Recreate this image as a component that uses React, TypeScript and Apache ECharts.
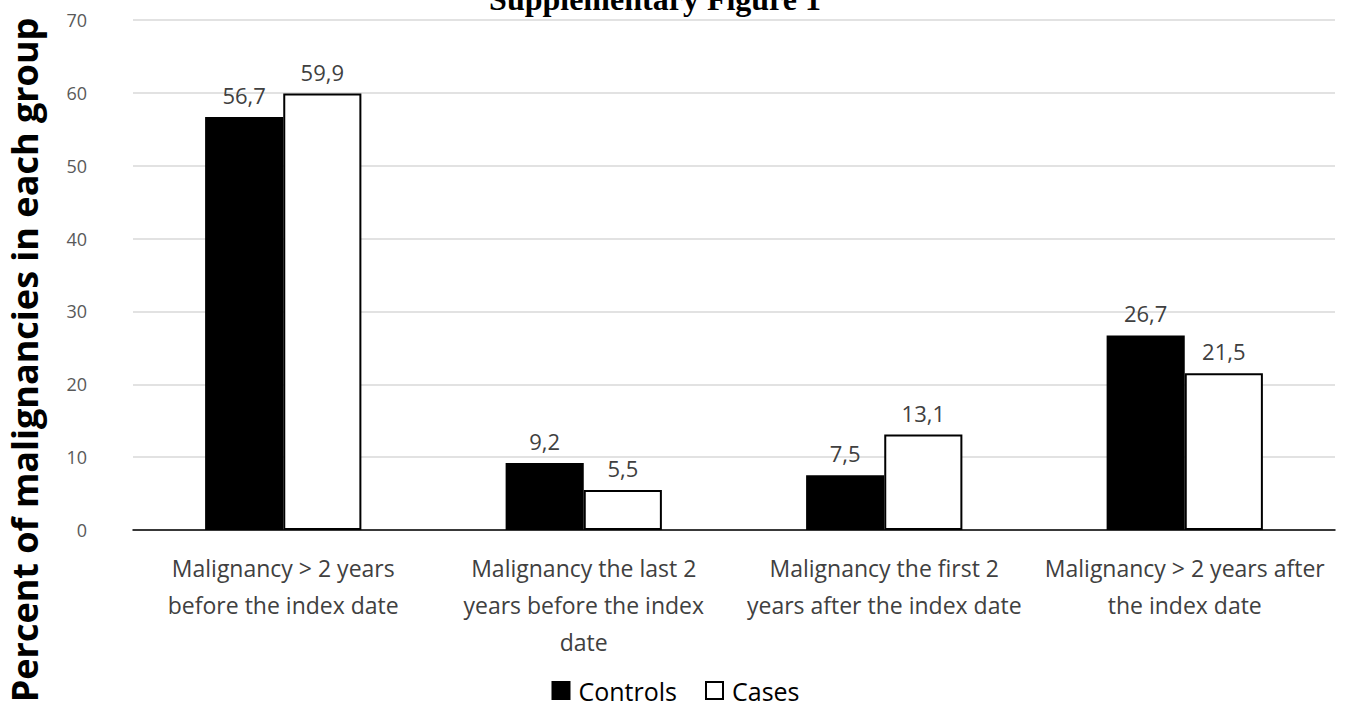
import React, { useEffect, useRef } from "react";
import * as echarts from "echarts";

const categories = [
  "Malignancy > 2 years\nbefore the index date",
  "Malignancy the last 2\nyears before the index\ndate",
  "Malignancy the first 2\nyears after the index date",
  "Malignancy > 2 years after\nthe index date",
];
const controls = [56.7, 9.2, 7.5, 26.7];
const cases = [59.9, 5.5, 13.1, 21.5];
const titleText = "Supplementary Figure 1";
const yAxisTitle = "Percent of malignancies in each group";

const fmt = (v: number) => v.toFixed(1).replace(".", ",");

export default function App() {
  const ref = useRef<HTMLDivElement>(null);
  useEffect(() => {
    const chart = echarts.init(ref.current!, undefined, { renderer: "svg" });
    const labelStyle = {
      show: true,
      position: "top" as const,
      distance: 11,
      color: "#404040",
      fontSize: 22,
      fontFamily: "Open Sans",
      formatter: (p: any) => fmt(p.value),
    };
    chart.setOption({
      animation: false,
      backgroundColor: "#ffffff",
      grid: { left: 133, right: 16, top: 20, bottom: 192 },
      graphic: [
        {
          type: "text",
          x: 655,
          y: -1,
          style: {
            text: titleText,
            fill: "#000",
            font: "bold 32px 'Liberation Serif', serif",
            textAlign: "center",
            textVerticalAlign: "middle",
          },
        },
        {
          type: "text",
          x: 24,
          y: 360,
          rotation: Math.PI / 2,
          style: {
            text: yAxisTitle,
            fill: "#000",
            font: "bold 36px 'Open Sans', sans-serif",
            textAlign: "center",
            textVerticalAlign: "middle",
          },
        },
      ],
      legend: {
        bottom: 14,
        left: "center",
        itemWidth: 17,
        itemHeight: 17,
        itemGap: 28,
        icon: "rect",
        textStyle: {
          fontSize: 25,
          color: "#000",
          fontFamily: "Open Sans",
          padding: [0, 0, 0, 4],
        },
        data: ["Controls", "Cases"],
      },
      xAxis: {
        type: "category",
        data: categories,
        axisLine: { lineStyle: { color: "#000", width: 1.5 } },
        axisTick: { show: false },
        axisLabel: {
          interval: 0,
          color: "#404040",
          fontSize: 23,
          lineHeight: 37,
          fontFamily: "Open Sans",
          margin: 19,
        },
      },
      yAxis: {
        type: "value",
        min: 0,
        max: 70,
        interval: 10,
        axisLine: { show: false },
        axisTick: { show: false },
        splitLine: { lineStyle: { color: "#d9d9d9", width: 1.5 } },
        axisLabel: {
          color: "#595959",
          fontSize: 18,
          fontFamily: "Open Sans",
          margin: 46,
          align: "right",
        },
      },
      series: [
        {
          name: "Controls",
          type: "bar",
          data: controls,
          barGap: "0%",
          barCategoryGap: "48%",
          itemStyle: { color: "#000", borderColor: "#000", borderWidth: 1.5 },
          label: labelStyle,
        },
        {
          name: "Cases",
          type: "bar",
          data: cases,
          itemStyle: { color: "#fff", borderColor: "#000", borderWidth: 2 },
          label: labelStyle,
        },
      ],
    });
    return () => chart.dispose();
  }, []);
  return (
    <div
      ref={ref}
      style={{ position: "fixed", left: 0, top: 0, width: 1351, height: 722 }}
    />
  );
}
